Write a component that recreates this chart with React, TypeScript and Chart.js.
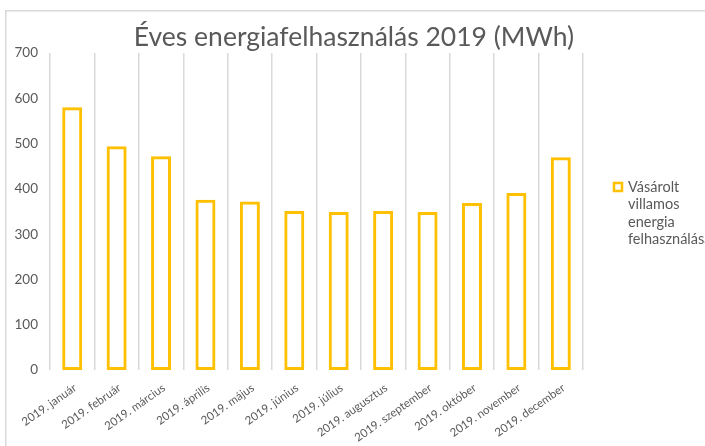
import React, { useEffect, useRef } from "react";
import { Chart, registerables } from "chart.js";

Chart.register(...registerables);

const TITLE = "Éves energiafelhasználás 2019 (MWh)";
const SERIES_LABEL = "Vásárolt villamos energia felhasználása";
const LEGEND_LINES = ["Vásárolt", "villamos", "energia", "felhasználása"];
const CATEGORIES = [
  "2019. január",
  "2019. február",
  "2019. március",
  "2019. április",
  "2019. május",
  "2019. június",
  "2019. július",
  "2019. augusztus",
  "2019. szeptember",
  "2019. október",
  "2019. november",
  "2019. december",
];
const VALUES = [580, 494, 472, 376, 372, 351, 349, 351, 349, 369, 391, 470];
const Y_MIN = 0;
const Y_MAX = 700;
const Y_STEP = 100;

const GOLD = "#FFC000";
const TEXT = "#595959";
const GRID = "#D9D9D9";
const FONT = "Lato, 'Open Sans', sans-serif";

const framePlugin = {
  id: "frameAndLegend",
  beforeDraw(chart: any) {
    const ctx = chart.ctx;
    ctx.save();
    ctx.strokeStyle = GRID;
    ctx.lineWidth = 1.5;
    ctx.beginPath();
    ctx.moveTo(5.75, 460);
    ctx.lineTo(5.75, 10.75);
    ctx.lineTo(720, 10.75);
    ctx.stroke();
    ctx.restore();
  },
  afterDraw(chart: any) {
    const ctx = chart.ctx;
    const area = chart.chartArea;
    ctx.save();
    // title
    ctx.fillStyle = TEXT;
    ctx.font = `26.5px ${FONT}`;
    ctx.textAlign = "center";
    ctx.textBaseline = "alphabetic";
    ctx.fillText(TITLE, 354, 46);
    // legend
    const lx = area.right + 31;
    const ly = 187;
    ctx.strokeStyle = GOLD;
    ctx.lineWidth = 2.5;
    ctx.fillStyle = "#fff";
    ctx.fillRect(lx, ly - 4, 8, 8);
    ctx.strokeRect(lx, ly - 4, 8, 8);
    ctx.fillStyle = TEXT;
    ctx.font = `14.5px ${FONT}`;
    ctx.textAlign = "left";
    ctx.textBaseline = "middle";
    LEGEND_LINES.forEach((line, i) => {
      ctx.fillText(line, lx + 14, ly + i * 17.5);
    });
    ctx.restore();
  },
};

export default function App() {
  const ref = useRef<HTMLCanvasElement>(null);
  useEffect(() => {
    if (!ref.current) return;
    const chart = new Chart(ref.current, {
      type: "bar",
      data: {
        labels: CATEGORIES,
        datasets: [
          {
            label: SERIES_LABEL,
            data: VALUES,
            backgroundColor: "rgba(255,255,255,0)",
            borderColor: GOLD,
            borderWidth: 3,
            borderSkipped: false,
            categoryPercentage: 1,
            barPercentage: 0.45,
          },
        ],
      },
      options: {
        animation: false,
        responsive: true,
        maintainAspectRatio: false,
        layout: { padding: { top: 53, left: 5, right: 122, bottom: 0 } },
        plugins: {
          legend: { display: false },
          title: { display: false },
          tooltip: { enabled: false },
        },
        scales: {
          x: {
            grid: {
              display: true,
              color: GRID,
              lineWidth: 1.5,
              offset: true,
              drawTicks: false,
            },
            border: { display: false },
            ticks: {
              color: TEXT,
              font: { family: FONT, size: 11.5 },
              minRotation: 35,
              maxRotation: 35,
              autoSkip: false,
              padding: 11,
              labelOffset: 3,
            },
            afterFit(scale: any) {
              scale.height = 76;
            },
          },
          y: {
            min: Y_MIN,
            max: Y_MAX,
            grid: { display: false },
            border: { display: false },
            ticks: {
              stepSize: Y_STEP,
              color: TEXT,
              font: { family: FONT, size: 13.5 },
              padding: 4,
            },
            afterFit(scale: any) {
              scale.width = 45;
            },
          },
        },
      },
      plugins: [framePlugin],
    });
    return () => chart.destroy();
  }, []);
  return (
    <div style={{ position: "fixed", left: 0, top: 0, width: 705, height: 446, background: "#fff" }}>
      <canvas ref={ref} />
    </div>
  );
}
